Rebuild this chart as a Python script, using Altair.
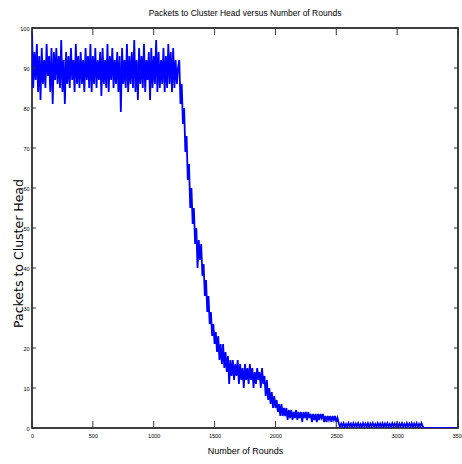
import altair as alt
import pandas as pd

# ---- data ----
ROUND_STEP = 10

# rounds 0 .. 1200 (every 10 rounds)
plateau = [
    99, 85, 94, 87, 96, 84, 93, 82, 95, 86,
    92, 85, 96, 88, 93, 84, 95, 81, 94, 87,
    95, 86, 93, 85, 97, 84, 92, 81, 94, 86,
    93, 85, 95, 87, 92, 84, 96, 86, 93, 85,
    94, 86, 92, 84, 95, 87, 93, 85, 96, 84,
    93, 86, 95, 85, 92, 87, 94, 83, 95, 86,
    92, 85, 96, 84, 93, 87, 95, 85, 92, 86,
    94, 84, 93, 79, 95, 86, 92, 85, 96, 84,
    93, 86, 94, 85, 97, 84, 92, 82, 95, 86,
    93, 85, 96, 84, 92, 87, 94, 82, 95, 85,
    93, 86, 97, 84, 94, 85, 92, 86, 95, 84,
    93, 85, 96, 86, 94, 84, 95, 85, 92, 86,
    90,
]

# rounds 1210 .. 2510
decline = [
    92, 81, 86, 76, 80, 69, 73, 62, 66, 55,
    60, 51, 55, 46, 50, 40, 47, 42, 46, 38,
    41, 33, 37, 29, 33, 26, 29, 23, 26, 21,
    24, 19, 23, 17, 21, 16, 21, 15, 19, 14,
    18, 11, 17, 13, 17, 12, 16, 13, 17, 11,
    16, 12, 15, 10, 16, 12, 15, 11, 16, 12,
    15, 10, 14, 11, 15, 12, 14, 10, 15, 11,
    13, 8, 12, 7, 10, 6, 9, 5, 8, 5,
    7, 4, 6, 3, 6, 3, 5, 3, 5, 2,
    4.5, 2.5, 4.5, 2, 4, 2.5, 4.5, 2, 4, 2.5,
    4, 1.5, 4, 2.5, 4, 2, 4, 2.5, 3.5, 1.5,
    3.5, 2, 3.5, 1.5, 3.5, 2, 3.5, 2.5, 3.5, 1.5,
    3, 1.5, 3, 2, 3, 1.5, 3, 2, 3, 1.5,
    2.5,
]

# rounds 2520 .. 3210
tail = [
    1.2, 0.3, 1.1, 0.4, 1.2, 0.3, 1.0, 0.3, 1.2, 0.4,
    1.1, 0.3, 1.2, 0.3, 1.1, 0.4, 1.2, 0.3, 1.0, 0.3,
    1.2, 0.4, 1.1, 0.3, 1.2, 0.3, 1.1, 0.4, 1.2, 0.3,
    1.0, 0.3, 1.2, 0.4, 1.1, 0.3, 1.2, 0.3, 1.1, 0.4,
    1.2, 0.3, 1.0, 0.3, 1.2, 0.4, 1.1, 0.3, 1.2, 0.3,
    1.1, 0.4, 1.2, 0.3, 1.0, 0.3, 1.2, 0.4, 1.1, 0.3,
    1.2, 0.3, 1.1, 0.4, 1.2, 0.3, 1.0, 0.3, 1.2, 0.4,
]

end_rounds = [3220, 3500]
end_values = [0, 0]

x_ticks = [0, 500, 1000, 1500, 2000, 2500, 3000, 3500]
y_ticks = [0, 10, 20, 30, 40, 50, 60, 70, 80, 90, 100]

values = plateau + decline + tail
rounds = [i * ROUND_STEP for i in range(len(values))] + end_rounds
values = values + end_values
df = pd.DataFrame({"round": rounds, "packets": values})

W, H = 426, 400
FONT = "Liberation Sans"

xscale = alt.Scale(domain=[0, 3500], nice=False, zero=False)
yscale = alt.Scale(domain=[0, 100], nice=False)

x_axis = alt.Axis(values=x_ticks, format="d", title="Number of Rounds",
                  labelPadding=5, titlePadding=8, titleFontSize=9,
                  titleFont=FONT, titleFontWeight="normal", labelOverlap=False,
                  labelFlush=False)
y_axis = alt.Axis(values=y_ticks, format="d", title="Packets to Cluster Head",
                  labelPadding=3, titleFontSize=12.5, titleFont="DejaVu Sans",
                  titleFontWeight="normal", titleX=-14, titleY=225,
                  titleBaseline="middle", titleAngle=-90, labelOverlap=False,
                  labelFlush=False)

line = alt.Chart(df).mark_line(color="#0000ff", strokeWidth=1.8, clip=True).encode(
    x=alt.X("round:Q", scale=xscale, axis=x_axis),
    y=alt.Y("packets:Q", scale=yscale, axis=y_axis),
)

xt = pd.DataFrame({"t": x_ticks})
yt = pd.DataFrame({"t": y_ticks})

tick_style = dict(color="#333333", strokeWidth=1)

xb = alt.Chart(xt).mark_rule(**tick_style).encode(
    x=alt.X("t:Q", scale=xscale, axis=x_axis), y=alt.value(H), y2=alt.value(H - 7))
xtop = alt.Chart(xt).mark_rule(**tick_style).encode(
    x=alt.X("t:Q", scale=xscale, axis=x_axis), y=alt.value(0), y2=alt.value(7))
yl = alt.Chart(yt).mark_rule(**tick_style).encode(
    y=alt.Y("t:Q", scale=yscale, axis=y_axis), x=alt.value(0), x2=alt.value(4))
yr = alt.Chart(yt).mark_rule(**tick_style).encode(
    y=alt.Y("t:Q", scale=yscale, axis=y_axis), x=alt.value(W), x2=alt.value(W - 4))

chart = alt.layer(line, xb, xtop, yl, yr).properties(
    width=W, height=H,
    autosize=alt.AutoSizeParams(type="none"),
    padding={"left": 32, "top": 28, "right": 4, "bottom": 36},
    background="white",
    title=alt.Title("Packets to Cluster Head versus Number of Rounds",
                    font=FONT, fontSize=8.5, fontWeight="normal",
                    offset=9, color="black"),
).configure_view(
    stroke="black", strokeWidth=1.5
).configure_axis(
    grid=False, domain=False, ticks=False, tickSize=0,
    labelFont=FONT, labelFontSize=5.5, labelColor="black",
    titleColor="black",
)

chart.save("out.html", embed_options={"renderer": "svg", "actions": False})
